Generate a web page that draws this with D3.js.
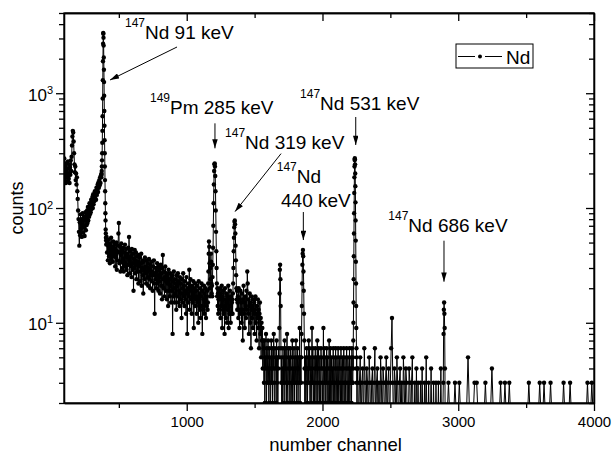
<!DOCTYPE html>
<html lang="en">
<head>
  <meta charset="UTF-8">
  <title>Nd gamma spectrum</title>
  <script src="https://d3js.org/d3.v7.min.js"></script>
  <style>
    body { margin: 0; background: #fff; }
    svg text { font-family: Arial, "Liberation Sans", Helvetica, sans-serif; fill: #000; }
    .axis path, .axis line { stroke: #000; stroke-width: 1.3; }
    .axis text { font-size: 15px; }
    .spectrum { fill: none; stroke: #000; stroke-width: 1; }
    .dot { fill: #000; }
  </style>
</head>
<body>
  <svg id="chart" width="612" height="455"></svg>

  <script>
    // Spectrum in pieces: [first channel, channel step, counts]
    const lowCounts = [
      250,190,270,175,230,205,165,245,185,220, 170,255,200,180,240,165,225,195,260,210,
      280,350,420,470,455,380,300,240,205,230, 175,200,160,185,140,120,95,80,62,47,
      75,58,88,66,80,56,72,90,61,78, 68,84,57,79,92,64,86,71,95,74,
      102,78,96,84,110,88,104,92,118,98, 112,125,100,132,108,128,115,140,122,136,
      118,150,130,145,160,138,168,150,175,158, 185,165,192];
    const peak91Counts = [185,200,195,210,230,260,300,370,470,630,900,1300,1900,2700,3350,3300,3050,2600,2050,1600,
      1250,950,700,520,390,300,230,175,140,110,90,78,65,60,55,52,48];
    const contCounts = [
      56,41,50,35,47,53,38,44,33,49, 40,55,36,46,42,34,51,38,45,39, 48,31,44,37,50,29,42,35,47,60,
      74,41,33,46,28,39,49,34,43,30, 45,36,28,41,33,48,31,38,44,29, 40,26,37,45,32,56,35,27,42,31,
      38,25,44,33,29,40,19,36,30,43, 27,35,41,24,32,38,28,34,22,39, 31,37,23,33,28,40,21,30,35,26,
      18,34,29,24,37,27,31,22,35,28, 25,33,21,30,36,24,29,20,32,26, 34,23,28,19,31,26,35,22,12,27,
      24,30,20,28,33,22,26,19,31,23, 29,18,25,32,21,27,16,30,39,24, 20,28,17,25,31,19,23,27,16,26,
      22,14,29,19,24,17,27,21,15,25, 19,26,8,23,17,28,20,15,24,18, 22,13,26,17,21,27,15,23,19,14,
      25,16,22,18,11,24,15,20,27,17, 21,14,23,16,19,12,25,18,8,20, 15,22,17,29,13,20,24,16,19,12,
      21,15,18,23,9,17,20,14,22,16, 19,12,21,15,17,10,23,14,18,13, 20,11,17,22,14,8,19,13,16,21,
      12,18,15,20,11,17,14,19,13];
    const pmCounts = [15,22,28,40,51,46,33,20,17,24,30,40,34,22,18,21,17,25,32,45,70,110,160,210,240,245,230,190,140,95,
      62,42,30,22,17,20,14,18,12,16,19,13,17];
    const midCounts1 = [16,20,11,18,14,21,9,17,13,19,12,16,8,20,14,11,18,15,10,17,13,21,9,16,12,19,14,10,17,12,15];
    const peak319Counts = [16,12,18,22,30,42,55,68,76,78,72,60,47,35,26,20,16,19,13,15];
    const midCounts2 = [
      17,11,20,13,9,16,19,12,15,10, 18,13,7,16,21,12,15,9,17,14, 11,19,13,28,22,12,16,8,14,18,
      10,15,6,13,17,11,14,9,16,12, 15,8,13,17,10,12,7,14,11,16, 9,13,6,12,15,8,11,5,10,7,
      9,4,7];
    const tailCounts1 = [6,3,7,2,5,4,8,1,6,3,5,7,4,2,6,3,5,1,4,7,3,6,2,5,4,8,3,1,6,4,5,2,7,3,5,1,4,6];
    const peak1690Counts = [5,9,18,29,32,24,14,6,3,5,1];
    const tailCounts2 = [4,1,6,3,5,2,7,3,4,6,1,5,8,3,2,4,6,3,5,1,6,4,2,3,5,7,1,4,3,6,
      2,5,3,4,7,1,5,3,6,2,4,5,3,9,2,5];
    const peak440Counts = [3,5,8,14,22,32,40,43,38,28,19,12,7,4,1,3];
    const tailCounts3 = [
      5,1,3,6,4,2,5,3,7,4, 6,1,3,5,2,4,9,3,6,1, 3,5,2,4,6,3,1,5,4,7, 2,3,6,4,1,5,3,2,6,4,
      5,1,3,4,9,2,6,3,5,1, 4,3,6,2,5,4,1,3,7,2, 4,6,1,3,5,2,4,3,6,1, 5,3,2,4,6,1,3,5,4,2,
      6,3,1,4,5,3,2,6,4,1, 3,5,2,4,6,3,1,5,3,2, 4,6,3,1,5,4,2,3,6,1, 4,3,5,2,6,3];
    const peak531Counts = [3,5,4,7,10,15,24,38,60,90,135,185,230,262,271,265,240,200,155,112,78,52,34,22,14,9,6,4,5,3,1,4,3];
    const tailCounts4 = [
      4,1,3,5,1,3,4,1,6,3, 1,4,3,1,5,3,1,3,4,1, 3,6,1,3,4,1,3,1,5,3, 1,4,3,1,3,5,1,3,4,1,
      3,6,11,3,1,4,3,1,5,3, 1,3,4,1,3,1,5,3,1,4, 3,1,1,4,3,1,3,5,1,1, 3,1,4,1,3,1,1,3,1,4,
      1,1,3,1,5,1,1,3,1,1, 4,1,1,3,1,1,3,1,1,3, 1,1,4,1,1];
    const peak686Counts = [3,8,13,15,12,9,4,1];
    const farCounts = [1,3,1,1,3,1,3,1,1,1,5,1,1,3,3,1,1,1,3,1,1,4,1,1,1,3,1,3,1,3,
      1,1,1,1,1,1,1,1,3,1,1,1,1,3,1,3,1,1,3,1,1,1,1,1,3,1,1,3,1,1,1,1,1,1,1,3,1,3,1];

    const segments = [
      [92, 3, lowCounts], [371, 1, peak91Counts], [410, 3, contCounts], [1156, 2, pmCounts],
      [1243, 3, midCounts1], [1336, 2, peak319Counts], [1377, 3, midCounts2], [1566, 3, tailCounts1],
      [1680, 2, peak1690Counts], [1703, 3, tailCounts2], [1842, 2, peak440Counts], [1875, 3, tailCounts3],
      [2224, 1, peak531Counts], [2260, 6, tailCounts4], [2890, 2, peak686Counts], [2912, 16, farCounts]
    ];

    const xMajorTicks = [1000, 2000, 3000, 4000];
    const xMinorTicks = [500, 1500, 2500, 3500];
    const yMajorTicks = [10, 100, 1000];
    const yMinorTicks = [2,3,4,5,6,7,8,9,20,30,40,50,60,70,80,90,200,300,400,500,600,700,800,900,2000,3000,4000,5000];

    // Peak labels: arrow tip at (channel, counts), tail and text offsets in px
    const annotations = [
      { ch: 435, counts: 1304, tail: [67, -33], lines: [["147", "Nd 91 keV", 15, -41]] },
      { ch: 1208, counts: 331, tail: [0, -25], lines: [["149", "Pm 285 keV", -65, -34]] },
      { ch: 1356, counts: 93, tail: [46, -58], lines: [["147", "Nd 319 keV", -10, -63]] },
      { ch: 1859, counts: 52.6, tail: [0, -28], lines: [["147", "Nd", -26.6, -56.7], ["", "440 keV", -22.3, -33.3]] },
      { ch: 2245, counts: 354, tail: [0, -28], lines: [["147", "Nd 531 keV", -55.7, -35]] },
      { ch: 2895, counts: 22.8, tail: [0, -41], lines: [["147", "Nd 686 keV", -55.7, -50]] }
    ];

    const margin = { top: 13, right: 18, bottom: 52, left: 64 };
    const width = 612 - margin.left - margin.right;
    const height = 455 - margin.top - margin.bottom;

    const root = d3.select("#chart");
    const svg = root.append("g")
      .attr("transform", "translate(" + margin.left + "," + margin.top + ")");

    const x = d3.scaleLinear().domain([96, 4000]).range([0, width]);
    const y = d3.scaleLog().domain([2, 5000]).range([height, 0]);

    // flatten segments into points
    const points = [];
    segments.forEach(([start, step, counts]) => {
      counts.forEach((c, i) => points.push({ ch: start + i * step, c: c }));
    });

    const defs = root.append("defs");
    defs.append("clipPath").attr("id", "plot-clip")
      .append("rect").attr("width", width).attr("height", height);
    defs.append("marker")
      .attr("id", "head")
      .attr("viewBox", "0 0 10 6")
      .attr("refX", 10).attr("refY", 3)
      .attr("markerUnits", "userSpaceOnUse")
      .attr("markerWidth", 10).attr("markerHeight", 5.5)
      .attr("orient", "auto")
      .append("path").attr("d", "M0,0L10,3L0,6Z").attr("fill", "#000");

    const plot = svg.append("g").attr("clip-path", "url(#plot-clip)");

    plot.append("path")
      .datum(points)
      .attr("class", "spectrum")
      .attr("d", d3.line().x(d => x(d.ch)).y(d => y(d.c)));

    plot.selectAll(".dot")
      .data(points)
      .enter()
      .append("circle")
      .attr("class", "dot")
      .attr("cx", d => x(d.ch))
      .attr("cy", d => y(d.c))
      .attr("r", 2.2);

    // frame
    svg.append("rect")
      .attr("width", width).attr("height", height)
      .attr("fill", "none").attr("stroke", "#000").attr("stroke-width", 1.3);

    // bottom axis (ticks out)
    svg.append("g").attr("class", "axis")
      .attr("transform", "translate(0," + height + ")")
      .call(d3.axisBottom(x).tickValues(xMajorTicks).tickSize(8).tickSizeOuter(0).tickPadding(5).tickFormat(d3.format("d")));
    svg.append("g").attr("class", "axis")
      .attr("transform", "translate(0," + height + ")")
      .call(d3.axisBottom(x).tickValues(xMinorTicks).tickSize(5).tickSizeOuter(0).tickFormat(""));

    // top axis (ticks in)
    svg.append("g").attr("class", "axis")
      .call(d3.axisBottom(x).tickValues(xMajorTicks).tickSize(8).tickSizeOuter(0).tickFormat(""));
    svg.append("g").attr("class", "axis")
      .call(d3.axisBottom(x).tickValues(xMinorTicks).tickSize(5).tickSizeOuter(0).tickFormat(""));

    // left axis (ticks out)
    const yAxis = svg.append("g").attr("class", "axis")
      .call(d3.axisLeft(y).tickValues(yMajorTicks).tickSize(8).tickSizeOuter(0).tickPadding(3));
    yAxis.selectAll(".tick text").each(function(d) {
      const t = d3.select(this).text("10").attr("dy", "0.4em").style("font-size", "17px");
      t.append("tspan").attr("dy", "-0.6em").style("font-size", "11px").text(Math.round(Math.log10(d)));
    });
    svg.append("g").attr("class", "axis")
      .call(d3.axisLeft(y).tickValues(yMinorTicks).tickSize(5).tickSizeOuter(0).tickFormat(""));

    // right axis (ticks in)
    svg.append("g").attr("class", "axis")
      .attr("transform", "translate(" + width + ",0)")
      .call(d3.axisLeft(y).tickValues(yMajorTicks).tickSize(8).tickSizeOuter(0).tickFormat(""));
    svg.append("g").attr("class", "axis")
      .attr("transform", "translate(" + width + ",0)")
      .call(d3.axisLeft(y).tickValues(yMinorTicks).tickSize(5).tickSizeOuter(0).tickFormat(""));

    // peak labels and arrows
    annotations.forEach(a => {
      const tx = x(a.ch), ty = y(a.counts);
      svg.append("line")
        .attr("x1", tx + a.tail[0]).attr("y1", ty + a.tail[1])
        .attr("x2", tx).attr("y2", ty)
        .attr("stroke", "#000").attr("stroke-width", 1)
        .attr("marker-end", "url(#head)");
      a.lines.forEach(([mass, rest, dx, dy]) => {
        const t = svg.append("text")
          .attr("x", tx + dx).attr("y", ty + dy)
          .style("font-size", "19px");
        if (mass) {
          t.append("tspan").attr("dy", -12).style("font-size", "12px").text(mass);
          t.append("tspan").attr("dy", 12).text(rest);
        } else {
          t.text(rest);
        }
      });
    });

    // legend
    const legend = root.append("g").attr("transform", "translate(456,44)");
    legend.append("rect").attr("width", 77).attr("height", 24)
      .attr("fill", "#fff").attr("stroke", "#000").attr("stroke-width", 1);
    legend.append("line").attr("x1", 2).attr("x2", 19).attr("y1", 12.5).attr("y2", 12.5).attr("stroke", "#000");
    legend.append("line").attr("x1", 29).attr("x2", 46).attr("y1", 12.5).attr("y2", 12.5).attr("stroke", "#000");
    legend.append("circle").attr("cx", 24).attr("cy", 12.5).attr("r", 2).attr("fill", "#000");
    legend.append("text").attr("x", 50).attr("y", 19.5).style("font-size", "19px").text("Nd");

    // axis titles
    root.append("text")
      .attr("x", 335.5).attr("y", 451)
      .style("text-anchor", "middle").style("font-size", "18.5px")
      .text("number channel");
    root.append("text")
      .attr("transform", "translate(23,208) rotate(-90)")
      .style("text-anchor", "middle").style("font-size", "18px")
      .text("counts");
  </script>
</body>
</html>
